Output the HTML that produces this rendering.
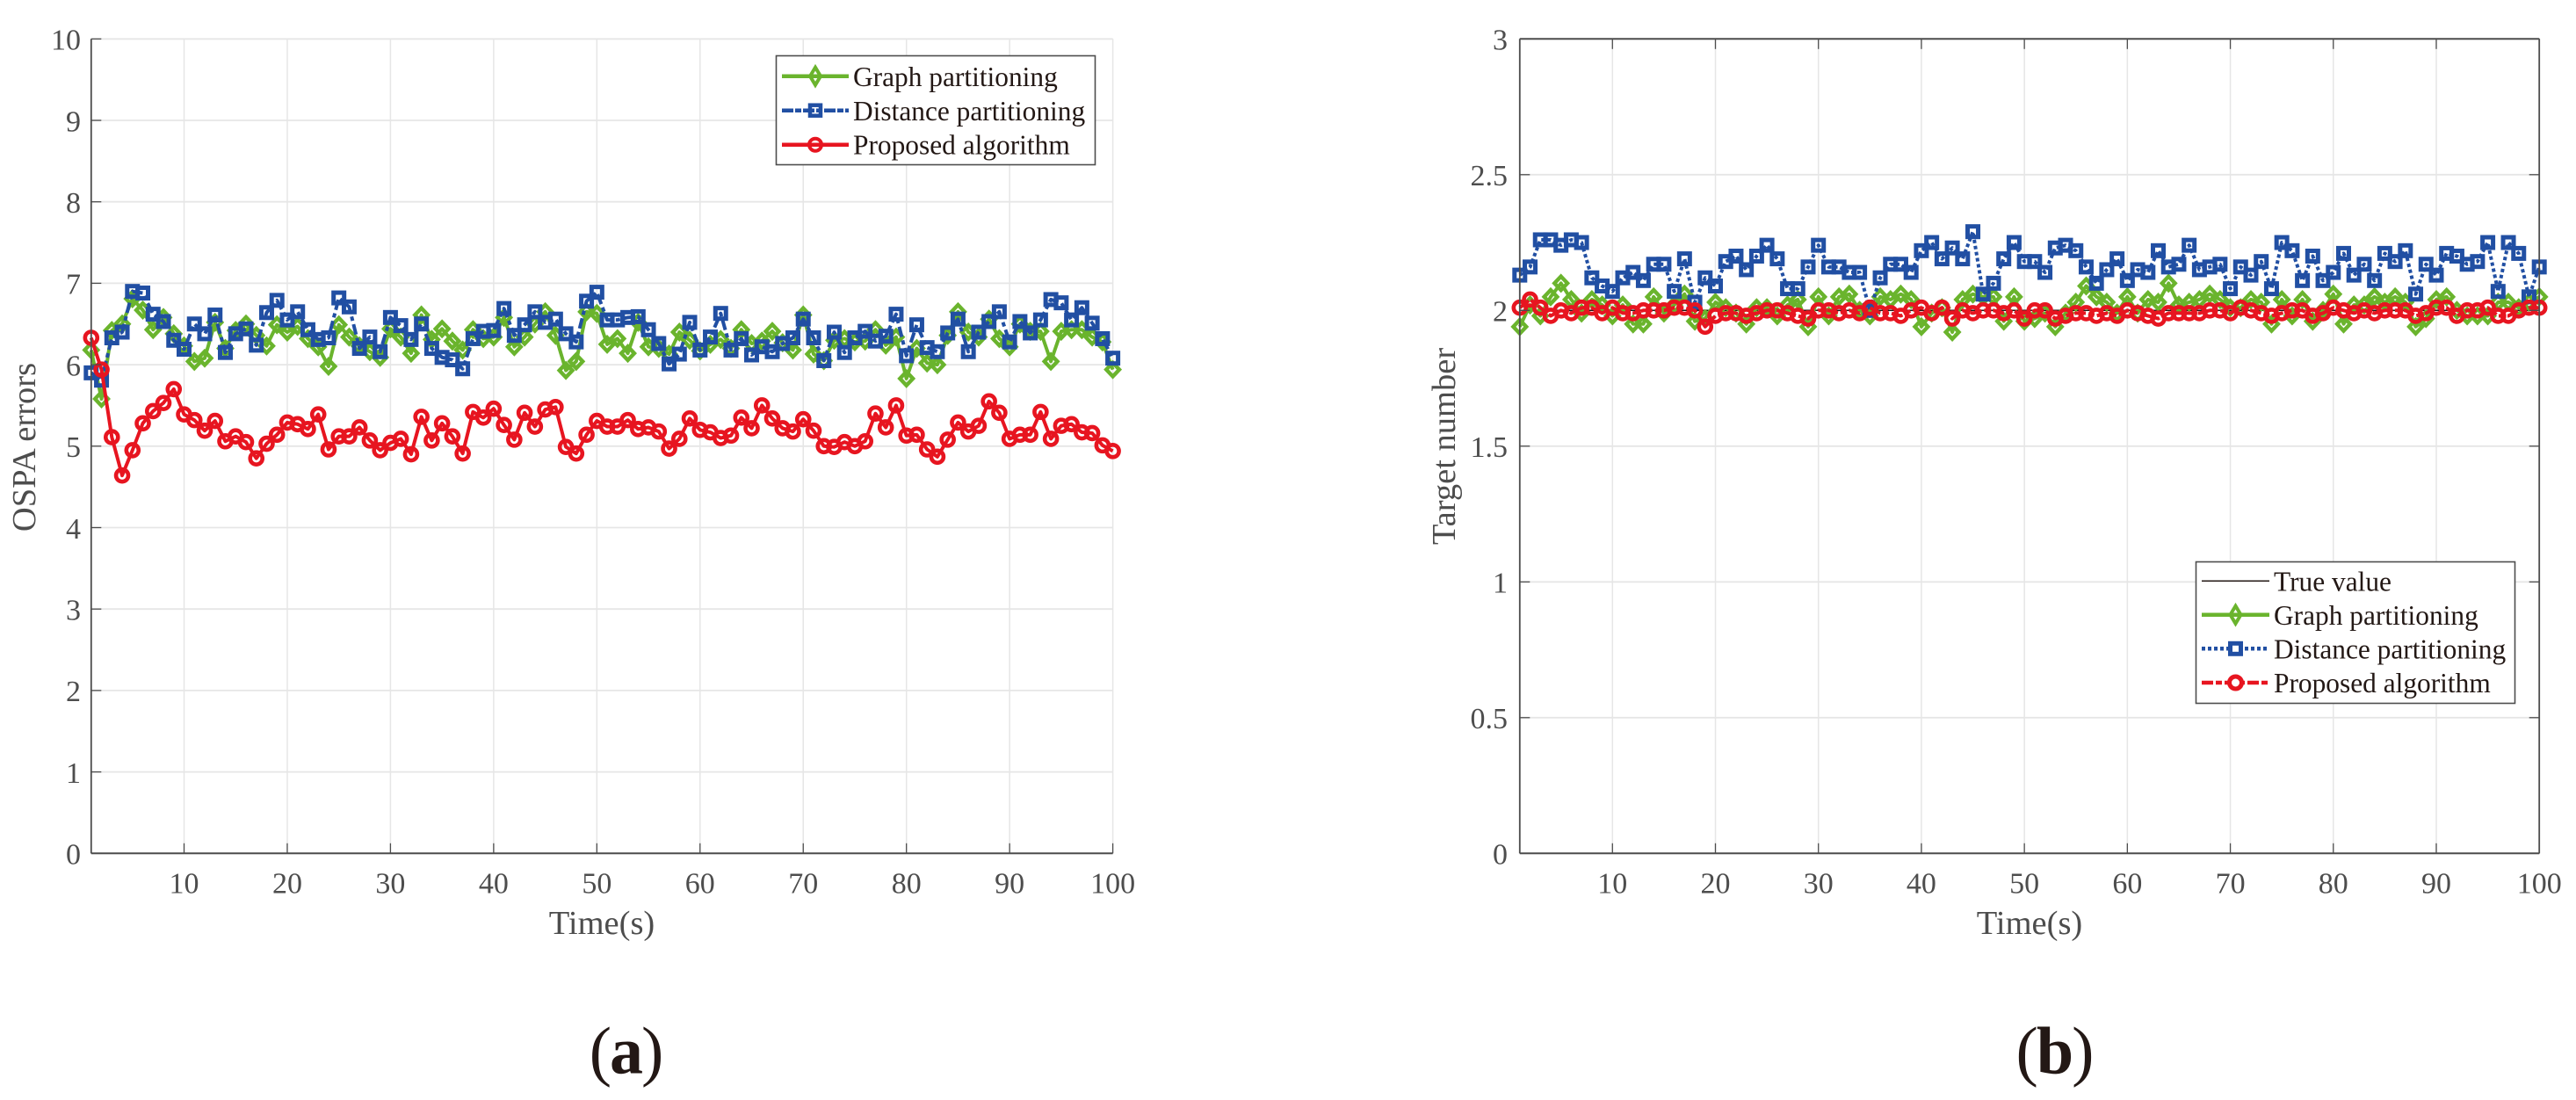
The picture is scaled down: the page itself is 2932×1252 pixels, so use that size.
<!DOCTYPE html>
<html lang="en">
<head>
<meta charset="utf-8">
<title>OSPA errors and target number over time</title>
<style>
  html, body { margin: 0; padding: 0; background: #ffffff; }
  svg { display: block; }
  text { font-family: "Liberation Serif", serif; }
  .tick-label { font-size: 34px; fill: #4d4d4d; }
  .axis-title { font-size: 38.5px; fill: #4d4d4d; }
  .legend-text { font-size: 31.4px; fill: #231815; }
  .panel-label { font-size: 76px; fill: #231815; letter-spacing: -2px; }
</style>
</head>
<body>
<svg id="figure" xmlns="http://www.w3.org/2000/svg" width="2932" height="1252" viewBox="0 0 2932 1252">
  <rect x="0" y="0" width="2932" height="1252" fill="#ffffff"/>

  <g id="panel-a">
    <g id="a-grid"></g>
    <g id="a-series"></g>
    <g id="a-axes"></g>
    <text class="axis-title" x="685" y="1063" text-anchor="middle">Time(s)</text>
    <text class="axis-title" transform="translate(40 509) rotate(-90)" text-anchor="middle">OSPA errors</text>
    <g>
      <rect x="883.5" y="63.5" width="363" height="124" fill="#ffffff" stroke="#4d4d4d" stroke-width="1.6"/>
      <g>
        <line x1="890" x2="966" y1="86.7" y2="86.7" stroke="#6ab42d" stroke-width="4.5"/>
        <path d="M928 76.7 L934 86.7 L928 96.7 L922 86.7 Z" fill="none" stroke="#6ab42d" stroke-width="4"/>
        <text class="legend-text" x="971" y="98">Graph partitioning</text>
      </g>
      <g>
        <line x1="890" x2="966" y1="125.7" y2="125.7" stroke="#214fa3" stroke-width="4.5" stroke-dasharray="13 2 7 2"/>
        <rect x="922" y="119.7" width="12" height="12" fill="none" stroke="#214fa3" stroke-width="4.5"/>
        <text class="legend-text" x="971" y="137">Distance partitioning</text>
      </g>
      <g>
        <line x1="890" x2="966" y1="164.7" y2="164.7" stroke="#e71520" stroke-width="4.5"/>
        <circle cx="928" cy="164.7" r="7" fill="none" stroke="#e71520" stroke-width="4"/>
        <text class="legend-text" x="971" y="175.5">Proposed algorithm</text>
      </g>
    </g>
    <text class="panel-label" x="712" y="1221.7" text-anchor="middle">(<tspan font-weight="bold">a</tspan>)</text>
  </g>

  <g id="panel-b">
    <g id="b-grid"></g>
    <g id="b-series"></g>
    <g id="b-axes"></g>
    <text class="axis-title" x="2310" y="1063" text-anchor="middle">Time(s)</text>
    <text class="axis-title" transform="translate(1656 508) rotate(-90)" text-anchor="middle">Target number</text>
    <g>
      <rect x="2499.5" y="639.5" width="363" height="161" fill="#ffffff" stroke="#4d4d4d" stroke-width="1.6"/>
      <g>
        <line x1="2506" x2="2583" y1="661.3" y2="661.3" stroke="#231815" stroke-width="1.5"/>
        <text class="legend-text" x="2588" y="672.5">True value</text>
      </g>
      <g>
        <line x1="2506" x2="2583" y1="699.7" y2="699.7" stroke="#6ab42d" stroke-width="4.5"/>
        <path d="M2544.5 689.7 L2550.5 699.7 L2544.5 709.7 L2538.5 699.7 Z" fill="none" stroke="#6ab42d" stroke-width="4"/>
        <text class="legend-text" x="2588" y="711">Graph partitioning</text>
      </g>
      <g>
        <line x1="2506" x2="2583" y1="738.3" y2="738.3" stroke="#214fa3" stroke-width="4.5" stroke-dasharray="4 3"/>
        <rect x="2538.5" y="732.3" width="12" height="12" fill="#ffffff" stroke="#214fa3" stroke-width="5"/>
        <text class="legend-text" x="2588" y="749.5">Distance partitioning</text>
      </g>
      <g>
        <line x1="2506" x2="2583" y1="777" y2="777" stroke="#e71520" stroke-width="4.5" stroke-dasharray="13 3 7 3"/>
        <circle cx="2544.5" cy="777" r="7" fill="#ffffff" stroke="#e71520" stroke-width="5"/>
        <text class="legend-text" x="2588" y="788">Proposed algorithm</text>
      </g>
    </g>
    <text class="panel-label" x="2338" y="1221.7" text-anchor="middle">(<tspan font-weight="bold">b</tspan>)</text>
  </g>
</svg>

<script>
const timeSteps = [1,2,3,4,5,6,7,8,9,10,11,12,13,14,15,16,17,18,19,20,21,22,23,24,25,26,27,28,29,30,31,32,33,34,35,36,37,38,39,40,41,42,43,44,45,46,47,48,49,50,51,52,53,54,55,56,57,58,59,60,61,62,63,64,65,66,67,68,69,70,71,72,73,74,75,76,77,78,79,80,81,82,83,84,85,86,87,88,89,90,91,92,93,94,95,96,97,98,99,100];
const xTickLabels = [10,20,30,40,50,60,70,80,90,100];
const yTickLabelsA = [0,1,2,3,4,5,6,7,8,9,10];
const yTickLabelsB = [0,0.5,1,1.5,2,2.5,3];

const graphErrors = [6.18,5.58,6.42,6.50,6.81,6.67,6.43,6.58,6.38,6.23,
  6.04,6.08,6.52,6.20,6.42,6.50,6.36,6.23,6.49,6.40,
  6.47,6.32,6.22,5.98,6.49,6.34,6.23,6.16,6.09,6.44,
  6.34,6.14,6.61,6.31,6.44,6.29,6.18,6.43,6.32,6.34,
  6.58,6.22,6.34,6.50,6.65,6.36,5.93,6.04,6.65,6.63,
  6.25,6.32,6.14,6.52,6.22,6.20,6.13,6.40,6.30,6.17,
  6.25,6.31,6.20,6.43,6.26,6.29,6.41,6.27,6.18,6.61,
  6.13,6.05,6.30,6.32,6.28,6.29,6.43,6.24,6.34,5.83,
  6.20,6.02,6.00,6.36,6.65,6.40,6.34,6.56,6.32,6.22,
  6.50,6.41,6.41,6.04,6.41,6.43,6.43,6.34,6.28,5.94];
const distanceErrors = [5.90,5.81,6.33,6.40,6.90,6.88,6.62,6.53,6.30,6.19,
  6.50,6.38,6.61,6.15,6.38,6.44,6.24,6.64,6.79,6.55,
  6.65,6.43,6.31,6.33,6.82,6.71,6.20,6.34,6.16,6.58,
  6.48,6.31,6.50,6.20,6.09,6.06,5.95,6.32,6.41,6.42,
  6.69,6.36,6.49,6.65,6.52,6.56,6.38,6.28,6.78,6.89,
  6.55,6.55,6.58,6.59,6.43,6.26,6.01,6.13,6.52,6.18,
  6.34,6.63,6.18,6.32,6.12,6.22,6.16,6.26,6.33,6.56,
  6.33,6.05,6.40,6.15,6.33,6.41,6.29,6.35,6.62,6.11,
  6.49,6.21,6.16,6.39,6.56,6.16,6.40,6.53,6.65,6.28,
  6.53,6.39,6.55,6.80,6.76,6.55,6.70,6.51,6.32,6.08];
const proposedErrors = [6.33,5.94,5.11,4.64,4.95,5.28,5.43,5.53,5.70,5.39,
  5.32,5.19,5.31,5.06,5.12,5.05,4.85,5.03,5.14,5.29,
  5.27,5.21,5.39,4.96,5.12,5.12,5.23,5.07,4.95,5.04,
  5.09,4.90,5.36,5.07,5.28,5.12,4.91,5.42,5.35,5.46,
  5.26,5.08,5.41,5.24,5.45,5.48,4.99,4.91,5.14,5.31,
  5.24,5.24,5.32,5.21,5.23,5.18,4.97,5.09,5.34,5.20,
  5.17,5.10,5.13,5.35,5.22,5.50,5.34,5.22,5.18,5.33,
  5.19,5.00,4.99,5.05,5.00,5.06,5.40,5.23,5.50,5.13,
  5.14,4.96,4.87,5.08,5.29,5.18,5.25,5.55,5.41,5.09,
  5.14,5.14,5.42,5.09,5.25,5.27,5.17,5.16,5.01,4.94];

const trueCount = [2,2,2,2,2,2,2,2,2,2,2,2,2,2,2,2,2,2,2,2,2,2,2,2,2,2,2,2,2,2,2,2,2,2,2,2,2,2,2,2,2,2,2,2,2,2,2,2,2,2,2,2,2,2,2,2,2,2,2,2,2,2,2,2,2,2,2,2,2,2,2,2,2,2,2,2,2,2,2,2,2,2,2,2,2,2,2,2,2,2,2,2,2,2,2,2,2,2,2,2];
const graphCount = [1.94,2.02,1.98,2.05,2.10,2.04,1.99,2.04,2.02,1.98,
  2.02,1.95,1.95,2.05,1.99,2.02,2.06,1.96,1.97,2.03,
  2.01,1.99,1.95,2.01,2.01,1.98,2.02,2.04,1.94,2.05,
  1.98,2.05,2.06,2.00,1.98,2.05,2.04,2.06,2.04,1.94,
  1.99,2.01,1.92,2.04,2.06,2.05,2.05,1.96,2.05,1.96,
  1.97,1.99,1.94,1.99,2.03,2.09,2.05,2.03,1.99,2.05,
  1.99,2.04,2.03,2.10,2.02,2.03,2.04,2.06,2.04,2.01,
  2.01,2.04,2.03,1.95,2.04,1.98,2.04,1.96,2.00,2.06,
  1.95,2.02,2.02,2.05,2.03,2.05,2.03,1.94,1.97,2.04,
  2.05,2.00,1.98,1.98,1.98,2.03,2.03,2.01,2.03,2.05];
const distanceCount = [2.13,2.16,2.26,2.26,2.24,2.26,2.25,2.12,2.09,2.07,
  2.12,2.14,2.11,2.17,2.17,2.07,2.19,2.03,2.12,2.09,
  2.18,2.20,2.15,2.20,2.24,2.19,2.08,2.08,2.16,2.24,
  2.16,2.16,2.14,2.14,2.00,2.12,2.17,2.17,2.14,2.22,
  2.25,2.19,2.23,2.19,2.29,2.06,2.10,2.19,2.25,2.18,
  2.18,2.14,2.23,2.24,2.22,2.16,2.10,2.15,2.19,2.11,
  2.15,2.14,2.22,2.16,2.17,2.24,2.15,2.16,2.17,2.08,
  2.16,2.13,2.18,2.08,2.25,2.22,2.11,2.20,2.11,2.14,
  2.21,2.13,2.17,2.11,2.21,2.18,2.22,2.06,2.17,2.13,
  2.21,2.20,2.17,2.18,2.25,2.07,2.25,2.21,2.05,2.16];
const proposedCount = [2.01,2.04,2.01,1.98,2.00,1.99,2.01,2.01,1.99,2.01,
  1.99,1.99,2.00,2.00,2.00,2.01,2.01,2.00,1.94,1.98,
  1.99,1.99,1.98,1.99,2.00,2.00,1.99,1.98,1.97,2.00,
  2.00,1.99,2.00,1.99,2.01,1.99,1.99,1.98,2.00,2.01,
  1.99,2.01,1.97,2.00,1.99,2.00,2.00,1.99,2.00,1.97,
  2.00,2.00,1.97,1.98,1.99,1.99,1.98,1.99,1.98,2.00,
  1.99,1.98,1.97,1.99,1.99,1.99,1.99,2.00,2.00,1.99,
  2.01,2.00,1.99,1.98,1.99,2.00,2.00,1.98,1.99,2.01,
  2.00,1.99,2.00,1.99,2.00,2.00,2.00,1.98,1.99,2.01,
  2.01,1.98,2.00,2.00,2.01,1.98,1.98,2.00,2.01,2.01];

const SVG_NS = 'http://www.w3.org/2000/svg';
const COLORS = { graph: '#6ab42d', distance: '#214fa3', proposed: '#e71520', axis: '#4d4d4d', grid: '#e6e6e6' };

function shape(tag, attrs, parent) {
  const el = document.createElementNS(SVG_NS, tag);
  for (const key in attrs) el.setAttribute(key, attrs[key]);
  parent.appendChild(el);
  return el;
}

function makeAxes(x1, x100, y0, yTop, yMax) {
  return {
    x: function (t) { return x1 + (t - 1) * (x100 - x1) / 99; },
    y: function (v) { return y0 - v * (y0 - yTop) / yMax; },
    x1: x1, x100: x100, y0: y0, yTop: yTop
  };
}

function drawGrid(axes, yTicks, parent) {
  xTickLabels.forEach(function (t) {
    const g = shape('line', { x1: axes.x(t), x2: axes.x(t), y1: axes.yTop, y2: axes.y0, stroke: COLORS.grid, 'stroke-width': 1.5 }, parent);
    
    
  });
  yTicks.forEach(function (v) {
    const g = shape('line', { x1: axes.x1, x2: axes.x100, y1: axes.y(v), y2: axes.y(v), stroke: COLORS.grid, 'stroke-width': 1.8 }, parent);
    
    
  });
}

function drawAxes(axes, yTicks, boxed, labelRight, parent) {
  const tickLen = 11.5;
  const left = shape('line', { x1: axes.x1, x2: axes.x1, y1: axes.yTop, y2: axes.y0, stroke: COLORS.axis, 'stroke-width': 1.8 }, parent);
  
  
  const bottom = shape('line', { x1: axes.x1, x2: axes.x100, y1: axes.y0, y2: axes.y0, stroke: COLORS.axis, 'stroke-width': 2 }, parent);
  
  
  if (boxed) {
    const top = shape('line', { x1: axes.x1, x2: axes.x100, y1: axes.yTop, y2: axes.yTop, stroke: COLORS.axis, 'stroke-width': 2 }, parent);
    
    
    const right = shape('line', { x1: axes.x100, x2: axes.x100, y1: axes.yTop, y2: axes.y0, stroke: COLORS.axis, 'stroke-width': 1.8 }, parent);
    
    
  }
  xTickLabels.forEach(function (t) {
    const tick = shape('line', { x1: axes.x(t), x2: axes.x(t), y1: axes.y0, y2: axes.y0 - tickLen, stroke: COLORS.axis, 'stroke-width': 1.3 }, parent);
    
    
    if (boxed) {
      const tickTop = shape('line', { x1: axes.x(t), x2: axes.x(t), y1: axes.yTop, y2: axes.yTop + tickLen, stroke: COLORS.axis, 'stroke-width': 1.3 }, parent);
      
      
    }
    const label = shape('text', { x: axes.x(t), y: 1016.7, 'text-anchor': 'middle', 'class': 'tick-label' }, parent);
    label.textContent = String(t);
    
    
  });
  yTicks.forEach(function (v) {
    const tick = shape('line', { x1: axes.x1, x2: axes.x1 + tickLen, y1: axes.y(v), y2: axes.y(v), stroke: COLORS.axis, 'stroke-width': 1.3 }, parent);
    
    
    if (boxed) {
      const tickRight = shape('line', { x1: axes.x100, x2: axes.x100 - tickLen, y1: axes.y(v), y2: axes.y(v), stroke: COLORS.axis, 'stroke-width': 1.3 }, parent);
      
      
    }
    const label = shape('text', { x: labelRight, y: axes.y(v) + 12.3, 'text-anchor': 'end', 'class': 'tick-label' }, parent);
    label.textContent = String(v);
    
    
  });
}

function drawMarker(kind, cx, cy, color, seriesName, parent) {
  let m;
  if (kind === 'diamond') {
    m = shape('path', { d: 'M' + cx + ' ' + (cy - 7.8) + ' L' + (cx + 7.4) + ' ' + cy + ' L' + cx + ' ' + (cy + 7.8) + ' L' + (cx - 7.4) + ' ' + cy + ' Z', fill: 'none', stroke: color, 'stroke-width': 4.4 }, parent);
  } else if (kind === 'square') {
    m = shape('rect', { x: cx - 6, y: cy - 6, width: 12, height: 12, fill: 'none', stroke: color, 'stroke-width': 5 }, parent);
  } else {
    m = shape('circle', { cx: cx, cy: cy, r: 7, fill: 'none', stroke: color, 'stroke-width': 4.6 }, parent);
  }
  
  
}

function drawSeries(axes, values, color, width, dash, kind, seriesName, parent) {
  const pts = timeSteps.map(function (t, i) { return axes.x(t) + ',' + axes.y(values[i]); }).join(' ');
  const line = shape('polyline', { points: pts, fill: 'none', stroke: color, 'stroke-width': width, 'stroke-linejoin': 'round' }, parent);
  if (dash) line.setAttribute('stroke-dasharray', dash);
  
  
  if (kind) {
    timeSteps.forEach(function (t, i) {
      drawMarker(kind, axes.x(t), axes.y(values[i]), color, seriesName, parent);
    });
  }
}

const axesA = makeAxes(103.8, 1266.6, 971.3, 44.3, 10);
const axesB = makeAxes(1729.8, 2890.2, 971.3, 44.3, 3);

drawGrid(axesA, yTickLabelsA, document.getElementById('a-grid'));
drawSeries(axesA, graphErrors, COLORS.graph, 4, null, 'diamond', 'graph-partitioning', document.getElementById('a-series'));
drawSeries(axesA, distanceErrors, COLORS.distance, 4, '12 4 5 4', 'square', 'distance-partitioning', document.getElementById('a-series'));
drawSeries(axesA, proposedErrors, COLORS.proposed, 4, null, 'circle', 'proposed-algorithm', document.getElementById('a-series'));
drawAxes(axesA, yTickLabelsA, false, 92, document.getElementById('a-axes'));

drawGrid(axesB, yTickLabelsB, document.getElementById('b-grid'));
drawSeries(axesB, trueCount, '#231815', 1.5, null, null, 'true-value', document.getElementById('b-series'));
drawSeries(axesB, graphCount, COLORS.graph, 4, null, 'diamond', 'graph-partitioning-b', document.getElementById('b-series'));
drawSeries(axesB, distanceCount, COLORS.distance, 4, '4 3', 'square', 'distance-partitioning-b', document.getElementById('b-series'));
drawSeries(axesB, proposedCount, COLORS.proposed, 4, '13 3 7 3', 'circle', 'proposed-algorithm-b', document.getElementById('b-series'));
drawAxes(axesB, yTickLabelsB, true, 1716, document.getElementById('b-axes'));
</script>
</body>
</html>
